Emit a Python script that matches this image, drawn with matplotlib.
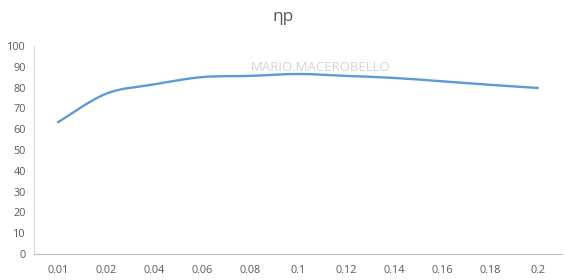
import matplotlib.pyplot as plt
from matplotlib.path import Path
from matplotlib.patches import PathPatch
import numpy as np

# chart data
categories = ["0.01", "0.02", "0.04", "0.06", "0.08", "0.1",
              "0.12", "0.14", "0.16", "0.18", "0.2"]
eta_p = [63.3, 77.0, 81.5, 85.0, 85.6, 86.5, 85.6, 84.6, 83.0, 81.3, 79.8]
y_ticks = list(range(0, 101, 10))

plt.rcParams['font.family'] = ['Open Sans', 'DejaVu Sans']


def smooth_path(xs, ys, t=1 / 6):
    # Excel-style smoothed line: Catmull-Rom turned into cubic beziers
    pts = np.column_stack([xs, ys]).astype(float)
    n = len(pts)
    verts = [pts[0]]
    codes = [Path.MOVETO]
    for i in range(n - 1):
        p0 = pts[max(i - 1, 0)]
        p1 = pts[i]
        p2 = pts[i + 1]
        p3 = pts[min(i + 2, n - 1)]
        verts += [p1 + (p2 - p0) * t, p2 - (p3 - p1) * t, p2]
        codes += [Path.CURVE4] * 3
    return Path(verts, codes)


fig = plt.figure(figsize=(5.67, 2.8), dpi=100)
ax = fig.add_axes([0.06, 0.093, 0.931, 0.743])

x = np.arange(len(categories))
ax.add_patch(PathPatch(smooth_path(x, eta_p), fill=False,
                       edgecolor='#5B9BD5', lw=1.7, capstyle='round'))

ax.set_xlim(-0.5, len(categories) - 0.5)
ax.set_ylim(0, 100)
ax.set_xticks(x)
ax.set_xticklabels(categories)
ax.set_yticks(y_ticks)
ax.tick_params(length=0, labelsize=7.8, colors='#595959')
ax.tick_params(axis='x', pad=8)
ax.tick_params(axis='y', pad=6)

for s in ['top', 'right']:
    ax.spines[s].set_visible(False)
ax.spines['left'].set_color('#d9d9d9')
ax.spines['bottom'].set_color('#bfbfbf')
ax.spines['left'].set_linewidth(0.8)
ax.spines['bottom'].set_linewidth(0.8)

fig.text(0.5, 0.94, "ηp", ha='center', va='center', fontsize=12.5, color='#595959')
# watermark
fig.text(0.565, 0.76, "MARIO.MACEROBELLO", ha='center', va='center',
         fontsize=9.5, color='#d4d4d4')

fig.savefig('out.png', dpi=100)
